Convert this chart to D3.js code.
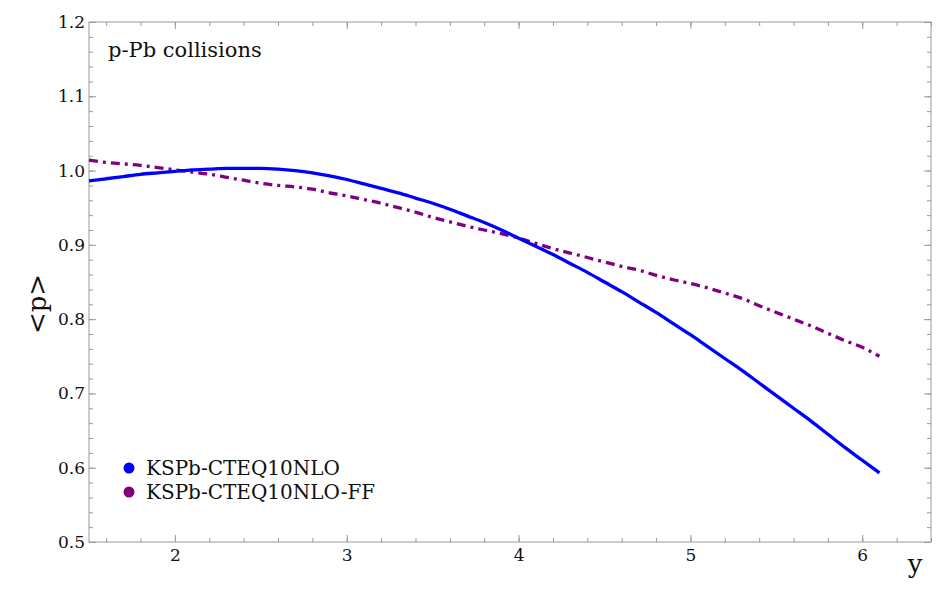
<!DOCTYPE html>
<html>
<head>
<meta charset="utf-8">
<script src="https://cdn.jsdelivr.net/npm/d3@7"></script>
<style>
  body { margin: 0; background: #fff; }
  svg { display: block; }
  .tick text { font-family: 'DejaVu Serif', serif; fill: #111; }
</style>
</head>
<body>
<svg id="chart" width="949" height="599"></svg>
<script>
// rapidity values (shared x for both curves)
const yRap = [1.5, 1.6, 1.7, 1.8, 1.9, 2.0, 2.1, 2.2, 2.3, 2.4, 2.5, 2.6, 2.7, 2.8, 2.9,
  3.0, 3.1, 3.2, 3.3, 3.4, 3.5, 3.6, 3.7, 3.8, 3.9, 4.0, 4.1, 4.2, 4.3, 4.4, 4.5, 4.6,
  4.7, 4.8, 4.9, 5.0, 5.1, 5.2, 5.3, 5.4, 5.5, 5.6, 5.7, 5.8, 5.9, 6.0, 6.1]

// KSPb-CTEQ10NLO
const pNLO = [0.986, 0.989, 0.992, 0.995, 0.997, 0.999, 1.001, 1.002, 1.003, 1.003, 1.003,
  1.002, 1.000, 0.997, 0.993, 0.988, 0.982, 0.976, 0.970, 0.963, 0.956, 0.948, 0.939,
  0.930, 0.920, 0.909, 0.898, 0.887, 0.875, 0.863, 0.850, 0.837, 0.823, 0.809, 0.794,
  0.779, 0.763, 0.747, 0.731, 0.714, 0.697, 0.680, 0.663, 0.645, 0.627, 0.610, 0.593]

// KSPb-CTEQ10NLO-FF
const pFF = [1.014, 1.011, 1.009, 1.007, 1.004, 1.001, 0.998, 0.995, 0.991, 0.987, 0.983,
  0.980, 0.978, 0.975, 0.970, 0.966, 0.961, 0.956, 0.950, 0.944, 0.937, 0.931, 0.925,
  0.920, 0.915, 0.909, 0.902, 0.895, 0.889, 0.883, 0.877, 0.871, 0.866, 0.859, 0.853,
  0.848, 0.842, 0.835, 0.828, 0.818, 0.809, 0.800, 0.791, 0.781, 0.771, 0.762, 0.750]

const seriesNames = ['KSPb-CTEQ10NLO', 'KSPb-CTEQ10NLO-FF']
const xTicks = [2, 3, 4, 5, 6]
const yTicks = [0.5, 0.6, 0.7, 0.8, 0.9, 1.0, 1.1, 1.2]

const margin = { top: 22, right: 18, bottom: 57, left: 89 }
const w = 949 - margin.left - margin.right
const h = 599 - margin.top - margin.bottom

const svg = d3.select('#chart')
  .append('g')
  .attr('transform', 'translate(' + margin.left + ',' + margin.top + ')')

const xScale = d3.scaleLinear().domain([1.5, 6.4]).range([0, w])
const yScale = d3.scaleLinear().domain([0.5, 1.2]).range([h, 0])

const frame = '#9a9a9a'

// minor ticks
const xMinor = d3.range(1.6, 6.41, 0.2)
const yMinor = d3.range(0.52, 1.2, 0.02)

const addAxis = (axis, tf) => {
  const g = svg.append('g').attr('transform', tf).call(axis)
  g.select('.domain').remove()
  g.selectAll('.tick line').attr('stroke', frame)
  return g
}

addAxis(d3.axisBottom(xScale).tickValues(xMinor).tickSize(-4).tickFormat(''), `translate(0,${h})`)
addAxis(d3.axisTop(xScale).tickValues(xMinor).tickSize(-4).tickFormat(''), 'translate(0,0)')
addAxis(d3.axisLeft(yScale).tickValues(yMinor).tickSize(-4).tickFormat(''), 'translate(0,0)')
addAxis(d3.axisRight(yScale).tickValues(yMinor).tickSize(-4).tickFormat(''), `translate(${w},0)`)

// major ticks
addAxis(d3.axisBottom(xScale).tickValues(xTicks).tickSize(-7).tickPadding(7).tickFormat(d3.format('d')), `translate(0,${h})`)
  .selectAll('text').attr('font-size', '17px')
addAxis(d3.axisTop(xScale).tickValues(xTicks).tickSize(-7).tickFormat(''), 'translate(0,0)')
addAxis(d3.axisLeft(yScale).tickValues(yTicks).tickSize(-7).tickPadding(4).tickFormat(d3.format('.1f')), 'translate(0,0)')
  .selectAll('text').attr('font-size', '17px')
addAxis(d3.axisRight(yScale).tickValues(yTicks).tickSize(-7).tickFormat(''), `translate(${w},0)`)

// frame
svg.append('rect')
  .attr('width', w)
  .attr('height', h)
  .attr('fill', 'none')
  .attr('stroke', frame)
  .attr('stroke-width', 1)

// curves
const line = (vals) => d3.line()
  .x((d, i) => xScale(yRap[i]))
  .y((d) => yScale(d))
  .curve(d3.curveMonotoneX)(vals)

svg.append('path')
  .attr('d', line(pFF))
  .attr('fill', 'none')
  .attr('stroke', '#800080')
  .attr('stroke-width', 3.3)
  .attr('stroke-dasharray', '9,5,3,5')

svg.append('path')
  .attr('d', line(pNLO))
  .attr('fill', 'none')
  .attr('stroke', '#0000ff')
  .attr('stroke-width', 3.3)

// title
svg.append('text')
  .attr('x', 19)
  .attr('y', 35)
  .text('p-Pb collisions')
  .style('font-family', 'DejaVu Serif')
  .style('font-size', '21px')
  .attr('fill', '#111')

// legend
const legend = svg.append('g')
seriesNames.forEach((name, i) => {
  legend.append('circle')
    .attr('cx', 40)
    .attr('cy', 446 + i * 24)
    .attr('r', 5.5)
    .attr('fill', i === 0 ? '#0000ff' : '#800080')
  legend.append('text')
    .attr('x', 57)
    .attr('y', 453 + i * 24)
    .text(name)
    .style('font-family', 'DejaVu Serif')
    .style('font-size', '20px')
    .attr('fill', '#111')
})

// axis labels
svg.append('text')
  .attr('x', w - 16)
  .attr('y', h + 31)
  .attr('text-anchor', 'middle')
  .text('y')
  .style('font-family', 'DejaVu Serif')
  .style('font-size', '26px')
  .attr('fill', '#111')

svg.append('text')
  .attr('transform', `translate(${-43},${h / 2 + 22}) rotate(-90)`)
  .attr('text-anchor', 'middle')
  .text('<p>')
  .style('font-family', 'DejaVu Serif')
  .style('font-size', '26px')
  .attr('fill', '#111')
</script>
</body>
</html>
